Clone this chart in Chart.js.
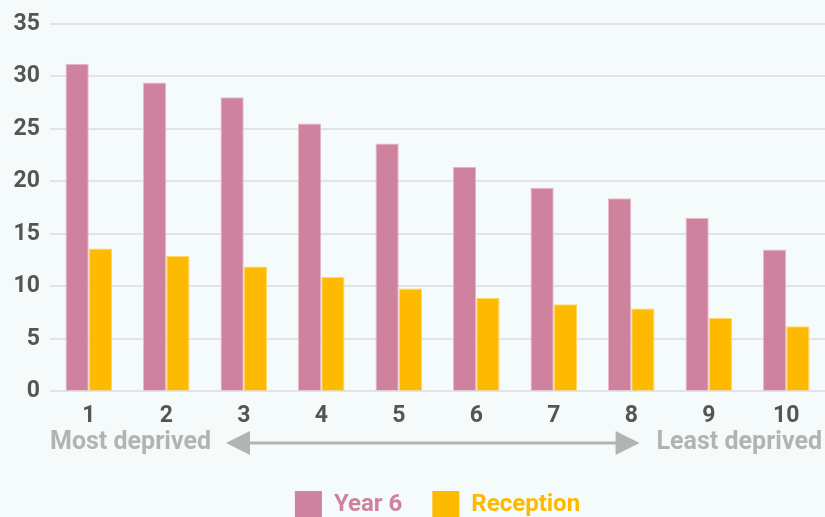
<!DOCTYPE html>
<html>
<head>
<meta charset="utf-8">
<script src="https://cdn.jsdelivr.net/npm/chart.js@4/dist/chart.umd.min.js"></script>
<style>
  html, body { margin: 0; padding: 0; background: #f5fafa; }
  #wrap { width: 825px; height: 517px; }
</style>
</head>
<body>
<div id="wrap"><canvas id="chart"></canvas></div>
<script>
const deciles = ["1", "2", "3", "4", "5", "6", "7", "8", "9", "10"];
const year6 = [31.2, 29.4, 28.0, 25.5, 23.6, 21.4, 19.4, 18.4, 16.5, 13.5];
const reception = [13.6, 12.9, 11.9, 10.9, 9.8, 8.9, 8.3, 7.9, 7.0, 6.2];
const yTicks = [0, 5, 10, 15, 20, 25, 30, 35];

const pink = "#ce829e";
const yellow = "#fdba00";
const tickGrey = "#555555";
const noteGrey = "#b3b3b3";
const fontFamily = "Roboto, 'Noto Sans', sans-serif";

// "Most deprived <----> Least deprived" under the x axis
const deprivationNote = {
    id: "deprivationNote",
    afterLayout(chart) {
        // legend is centred on the plot area, not the whole canvas
        const shift = (chart.chartArea.left + chart.chartArea.right) / 2 - chart.width / 2;
        chart.legend.left += shift;
        chart.legend.right += shift;
    },
    afterDraw(chart) {
        const ctx = chart.ctx;
        const area = chart.chartArea;
        const y = 443;
        ctx.save();
        ctx.font = "700 25px " + fontFamily;
        ctx.fillStyle = noteGrey;
        ctx.textBaseline = "middle";
        ctx.textAlign = "left";
        ctx.fillText("Most deprived", area.left, y);
        const leftEnd = area.left + ctx.measureText("Most deprived").width + 15;
        ctx.textAlign = "right";
        ctx.fillText("Least deprived", chart.width - 3, y);
        const rightEnd = chart.width - 3 - ctx.measureText("Least deprived").width - 17;

        ctx.strokeStyle = noteGrey;
        ctx.lineWidth = 3;
        ctx.beginPath();
        ctx.moveTo(leftEnd + 20, y);
        ctx.lineTo(rightEnd - 20, y);
        ctx.stroke();
        ctx.beginPath();
        ctx.moveTo(leftEnd, y);
        ctx.lineTo(leftEnd + 24, y - 12);
        ctx.lineTo(leftEnd + 24, y + 12);
        ctx.closePath();
        ctx.moveTo(rightEnd, y);
        ctx.lineTo(rightEnd - 24, y - 12);
        ctx.lineTo(rightEnd - 24, y + 12);
        ctx.closePath();
        ctx.fill();
        ctx.restore();
    }
};

var ctx = document.getElementById("chart").getContext("2d");
var chart = new Chart(ctx, {
    type: "bar",
    data: {
        labels: deciles,
        datasets: [
            {
                label: "Year 6",
                data: year6,
                backgroundColor: pink,
                borderColor: "#e7b9c9",
                borderWidth: 1,
            },
            {
                label: "Reception",
                data: reception,
                backgroundColor: yellow,
                borderColor: "#ffd766",
                borderWidth: 1,
            },
        ],
    },
    options: {
        responsive: true,
        maintainAspectRatio: false,
        animation: false,
        layout: { padding: { top: 15, right: 0, left: 0, bottom: -11 } },
        datasets: {
            bar: { categoryPercentage: 0.6, barPercentage: 1.0 }
        },
        scales: {
            x: {
                grid: { display: false },
                border: { display: false },
                ticks: {
                    color: tickGrey,
                    font: { family: fontFamily, size: 23, weight: "700" },
                    padding: 3,
                },
                afterFit(scale) { scale.height += 28; },
            },
            y: {
                min: 0,
                max: 35,
                afterBuildTicks(scale) { scale.ticks = yTicks.map(v => ({ value: v })); },
                grid: { color: "#e3e3e7", lineWidth: 2, drawTicks: false },
                border: { display: false },
                ticks: {
                    color: tickGrey,
                    font: { family: fontFamily, size: 23, weight: "700" },
                    padding: 10,
                },
                afterFit(scale) { scale.width = 50; },
            },
        },
        plugins: {
            tooltip: { enabled: false },
            legend: {
                position: "bottom",
                labels: {
                    boxWidth: 27,
                    boxHeight: 27,
                    padding: 30,
                    font: { family: fontFamily, size: 24, weight: "700" },
                    generateLabels(chart) {
                        return chart.data.datasets.map((ds, i) => ({
                            text: ds.label,
                            fillStyle: ds.backgroundColor,
                            strokeStyle: ds.backgroundColor,
                            lineWidth: 0,
                            fontColor: ds.backgroundColor,
                            datasetIndex: i,
                            hidden: false,
                        }));
                    },
                },
            },
        },
    },
    plugins: [deprivationNote],
});
</script>
</body>
</html>
